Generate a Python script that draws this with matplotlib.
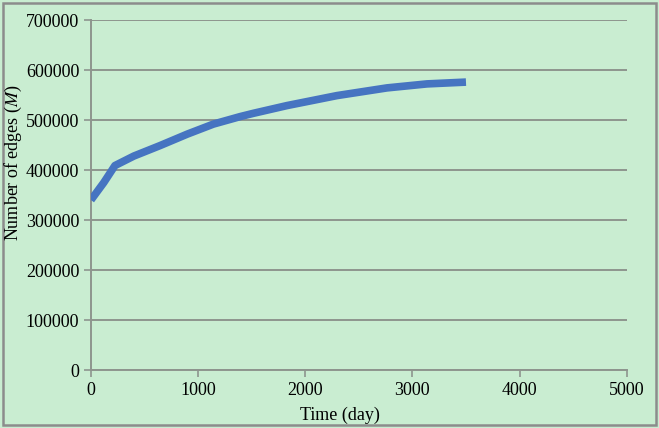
import numpy as np
import matplotlib
matplotlib.use('Agg')
import matplotlib.pyplot as plt
from matplotlib.patches import Rectangle

# Values
time_days = [0, 120, 224, 400, 645, 900, 1143, 1393, 1517, 1829, 2296, 2763, 3137, 3500]
n_edges = [340000, 375000, 409000, 428000, 449000, 472000, 492000, 507000,
           513600, 529000, 549000, 564400, 572400, 576000]
x_ticks = [0, 1000, 2000, 3000, 4000, 5000]
y_ticks = [0, 100000, 200000, 300000, 400000, 500000, 600000, 700000]

bg = '#c9edd1'
grey = '#8e958e'

plt.rcParams['font.family'] = ['Liberation Serif', 'DejaVu Serif']
plt.rcParams['mathtext.fontset'] = 'stix'

fig = plt.figure(figsize=(6.59, 4.28), dpi=100, facecolor=bg)
ax = fig.add_axes([0.138, 0.1355, 0.813, 0.8175], facecolor=bg)

ax.plot(time_days, n_edges, color='#4674c1', linewidth=5.5,
        solid_capstyle='butt', zorder=3)

ax.set_xlim(0, 5000)
ax.set_ylim(0, 700000)
ax.set_xticks(x_ticks)
ax.set_yticks(y_ticks)
ax.tick_params(labelsize=13, colors=grey, labelcolor='black', length=5, width=1.2)
ax.yaxis.grid(True, color=grey, linewidth=1.4)
ax.set_axisbelow(True)
for s in ['top', 'right']:
    ax.spines[s].set_visible(False)
for s in ['left', 'bottom']:
    ax.spines[s].set_color(grey)
    ax.spines[s].set_linewidth(1.4)

# axis titles placed where they sit in the original
fig.text(0.516, 0.030, 'Time (day)', fontsize=13, ha='center', va='center')
fig.text(0.021, 0.619, 'Number of edges ($M$)', fontsize=13, rotation=90,
         ha='center', va='center')

fig.patches.append(Rectangle((0.004, 0.006), 0.992, 0.986, transform=fig.transFigure,
                             fill=False, edgecolor='#8c8c8c', linewidth=1.8))

plt.savefig('out.png', dpi=100, facecolor=bg)
